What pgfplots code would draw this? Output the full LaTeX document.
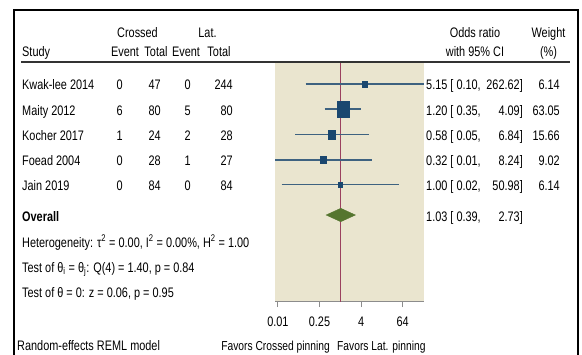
\documentclass[border=0pt]{standalone}
\usepackage{pgfplots}
\pgfplotsset{compat=1.18}
\usepackage{fontspec}
\setmainfont{Liberation Sans}[FakeStretch=0.79]
\newcommand\ff{\fontsize{13.8bp}{16bp}\selectfont}
\newcommand\fs{\fontsize{13bp}{15bp}\selectfont}
\definecolor{bg}{RGB}{234,229,207}
\definecolor{navy}{RGB}{26,71,111}
\definecolor{cil}{RGB}{62,98,128}
\definecolor{dgreen}{RGB}{85,117,47}
\definecolor{nullc}{RGB}{155,65,95}
\begin{document}
\begin{tikzpicture}
\begin{scope}[x=1bp,y=-1bp,every node/.style={font=\ff,inner sep=0pt}]
  \path[use as bounding box] (0,0) rectangle (582,354);
  \coordinate (axSW) at (275,301.5);
  % frame
  \draw[line width=2bp,black] (13.5,370) -- (13.5,9.5) -- (577.5,9.5) -- (577.5,370);
  % header line
  \draw[line width=1.5bp,black!80] (21,62) -- (570,62);
  % headers
  \node[anchor=base] at (137.5,37) {Crossed};
  \node[anchor=base] at (207.5,37) {Lat.};
  \node[anchor=base] at (475,37) {Odds ratio};
  \node[anchor=base] at (548.5,37) {Weight};
  \node[anchor=base west] at (22,56.5) {Study};
  \node[anchor=base] at (125,56.5) {Event};
  \node[anchor=base] at (156,56.5) {Total};
  \node[anchor=base] at (186,56.5) {Event};
  \node[anchor=base] at (219,56.5) {Total};
  \node[anchor=base] at (475,56.5) {with 95\% CI};
  \node[anchor=base] at (548.5,56.5) {(\%)};
  % study rows
  \foreach \y/\s/\a/\b/\c/\d/\l/\h/\w in {
     89.5/Kwak-lee 2014/0/47/0/244/{5.15 [ 0.10,}/{262.62]}/6.14,
     115/Maity 2012/6/80/5/80/{1.20 [ 0.35,}/{4.09]}/63.05,
     140/Kocher 2017/1/24/2/28/{0.58 [ 0.05,}/{6.84]}/15.66,
     165.3/Foead 2004/0/28/1/27/{0.32 [ 0.01,}/{8.24]}/9.02,
     190.3/Jain 2019/0/84/0/84/{1.00 [ 0.02,}/{50.98]}/6.14}{
    \node[anchor=base west] at (22,\y) {\s};
    \node[anchor=base east] at (123,\y) {\a};
    \node[anchor=base east] at (161,\y) {\b};
    \node[anchor=base east] at (191,\y) {\c};
    \node[anchor=base east] at (233,\y) {\d};
    \node[anchor=base west] at (426,\y) {\l};
    \node[anchor=base east] at (523,\y) {\h};
    \node[anchor=base east] at (560,\y) {\w};
  }
  \node[anchor=base west] at (22,221) {\bfseries Overall};
  \node[anchor=base west] at (426,221) {1.03 [ 0.39,};
  \node[anchor=base east] at (523,221) {2.73]};
  \node[anchor=base west] at (22,247) {Heterogeneity: τ\textsuperscript{2} = 0.00, I\textsuperscript{2} = 0.00\%, H\textsuperscript{2} = 1.00};
  \node[anchor=base west] at (22,272.3) {Test of θ\textsubscript{i} = θ\textsubscript{j}: Q(4) = 1.40, p = 0.84};
  \node[anchor=base west] at (22,297.6) {Test of θ = 0: z = 0.06, p = 0.95};
  \node[anchor=base west] at (17,350) {Random-effects REML model};
  \node[anchor=base east,font=\fs] at (330,350) {Favors Crossed pinning};
  \node[anchor=base west,font=\fs] at (337,350) {Favors Lat. pinning};
\end{scope}
\begin{axis}[
  at={(axSW)}, anchor=south west,
  scale only axis, width=148.9bp, height=238.5bp,
  xmode=log, xmin=0.0129, xmax=262.62,
  ymin=63, ymax=301.5, y dir=reverse,
  axis x line=bottom, axis y line=none,
  axis line style={-, draw=black!45, line width=0.9bp},
  axis background/.style={fill=bg},
  xtick={0.015625,0.25,4,64}, xticklabels={0.01,0.25,4,64},
  minor xtick={}, ytick=\empty,
  xtick align=outside, major tick length=5.5bp,
  tick style={draw=black!45, line width=0.9bp},
  tick label style={font=\ff, text=black},
  xticklabel style={yshift=-6bp},
  /pgf/number format/assume math mode=true,
]
\addplot[nullc, line width=0.7bp] coordinates {(1,63) (1,301.5)};
% confidence intervals
\addplot[cil, line width=1.25bp] coordinates {(0.10,84) (262.62,84)};
\addplot[cil, line width=1.25bp] coordinates {(0.35,109) (4.09,109)};
\addplot[cil, line width=1.25bp] coordinates {(0.05,134.7) (6.84,134.7)};
\addplot[cil, line width=1.25bp] coordinates {(0.01,160) (8.24,160)};
\addplot[cil, line width=1.25bp] coordinates {(0.02,184.7) (50.98,184.7)};
% point estimates, sized by weight
\addplot[only marks, mark=square*, mark size=2.4, mark options={fill=navy, draw=navy, yscale=1.35}] coordinates {(5.15,84)};
\addplot[only marks, mark=square*, mark size=5.7, mark options={fill=navy, draw=navy, yscale=1.45}] coordinates {(1.20,109)};
\addplot[only marks, mark=square*, mark size=3.5, mark options={fill=navy, draw=navy, yscale=1.2}] coordinates {(0.58,134.7)};
\addplot[only marks, mark=square*, mark size=2.7, mark options={fill=navy, draw=navy, yscale=1.25}] coordinates {(0.32,160)};
\addplot[only marks, mark=square*, mark size=2.4, mark options={fill=navy, draw=navy, yscale=1.25}] coordinates {(1.00,184.7)};
% overall diamond
\addplot[fill=dgreen, draw=dgreen] coordinates {(0.39,215) (1.03,208.3) (2.73,215) (1.03,221.7)} -- cycle;
\end{axis}
\end{tikzpicture}
\end{document}
